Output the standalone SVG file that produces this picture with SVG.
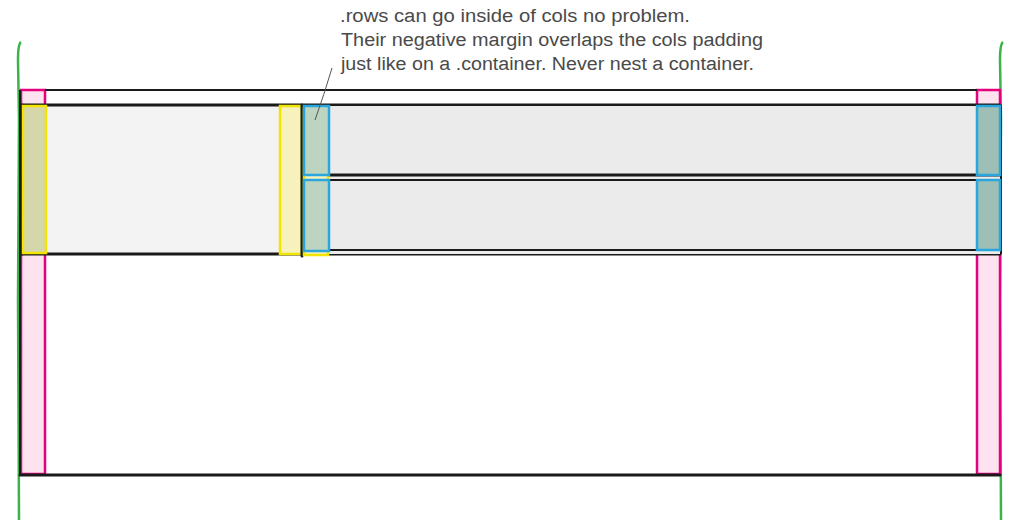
<svg xmlns="http://www.w3.org/2000/svg" width="1024" height="525" viewBox="0 0 1024 525">
<style>
.guide{stroke:#3cb34a;stroke-width:2.5;fill:none}
.gutter{fill:#fde3f0;stroke:#e6007e;stroke-width:2.5}
.ink{stroke:#1a1a1a;fill:none;stroke-width:3;stroke-linecap:round}
.thin{stroke:#1a1a1a;fill:none;stroke-width:2}
.pad{fill:#f7f1bb;stroke:#f2e600;stroke-width:2.5}
.padmix{fill:#d5d6aa;stroke:#f2e600;stroke-width:2.5}
.npad{fill:#bdd5c0;stroke:#2aa6df;stroke-width:2.5}
.npadr{fill:#9dbfb5;stroke:#2aa6df;stroke-width:2.5}
.note{font-family:"Liberation Sans",Arial,sans-serif;font-size:18px;fill:#4a4a4a}
</style>
<rect width="1024" height="525" fill="#ffffff"/>
<g id="guides">
<path class="guide" d="M19 520 L18 300 L19 120 L18 60 Q18 44 21 42"/>
<path class="guide" d="M1001 520 L1000 300 L1001 120 L1000 60 Q1000 44 1003 42"/>
</g>
<g id="container">
<rect x="20" y="90" width="981" height="385" fill="#ffffff"/>
<rect class="gutter" x="21" y="90" width="24" height="384"/>
<rect class="gutter" x="977" y="90" width="23" height="384"/>
<line class="thin" x1="45" y1="90" x2="977" y2="90"/>
<line class="ink" x1="20" y1="475" x2="1000" y2="475"/>
<line class="thin" x1="20" y1="90" x2="20" y2="475"/>
</g>
<g id="row">
<rect x="22" y="105" width="978" height="149" fill="#f3f3f3"/>
<line class="ink" x1="22" y1="105" x2="1000" y2="105"/>
<line class="ink" x1="22" y1="254" x2="1000" y2="254"/>
<line class="ink" x1="22" y1="105" x2="22" y2="254"/>
</g>
<g id="col1">
<rect class="padmix" x="23" y="106" width="23" height="147"/>
<rect class="pad" x="280" y="106" width="22" height="148"/>
<line class="ink" x1="302" y1="105" x2="302" y2="256"/>
</g>
<g id="col2">
<rect x="303" y="106" width="697" height="148" fill="#ebebeb"/>
<rect class="pad" x="304" y="108" width="24" height="147"/>
<line class="ink" x1="330" y1="175" x2="1000" y2="175"/>
<line class="thin" x1="330" y1="180" x2="1000" y2="180"/>
<line class="thin" x1="330" y1="250" x2="1000" y2="250"/>
<line class="thin" x1="1001" y1="105" x2="1001" y2="254"/>
</g>
<g id="nested-row-1">
<rect class="npad" x="304" y="106" width="25" height="69"/>
<rect class="npadr" x="977" y="106" width="23" height="69"/>
</g>
<g id="nested-row-2">
<rect class="npad" x="304" y="180" width="25" height="71"/>
<rect class="npadr" x="977" y="180" width="23" height="70"/>
</g>
<g id="connectors">
<path d="M332 68 Q324 95 315 120" stroke="#555" stroke-width="1" fill="none"/>
</g>
<g id="annotation">
<text class="note" x="340" y="22" textLength="350" lengthAdjust="spacingAndGlyphs">.rows can go inside of cols no problem.</text>
<text class="note" x="341" y="46" textLength="422" lengthAdjust="spacingAndGlyphs">Their negative margin overlaps the cols padding</text>
<text class="note" x="341" y="70" textLength="413" lengthAdjust="spacingAndGlyphs">just like on a .container. Never nest a container.</text>
</g>
</svg>
